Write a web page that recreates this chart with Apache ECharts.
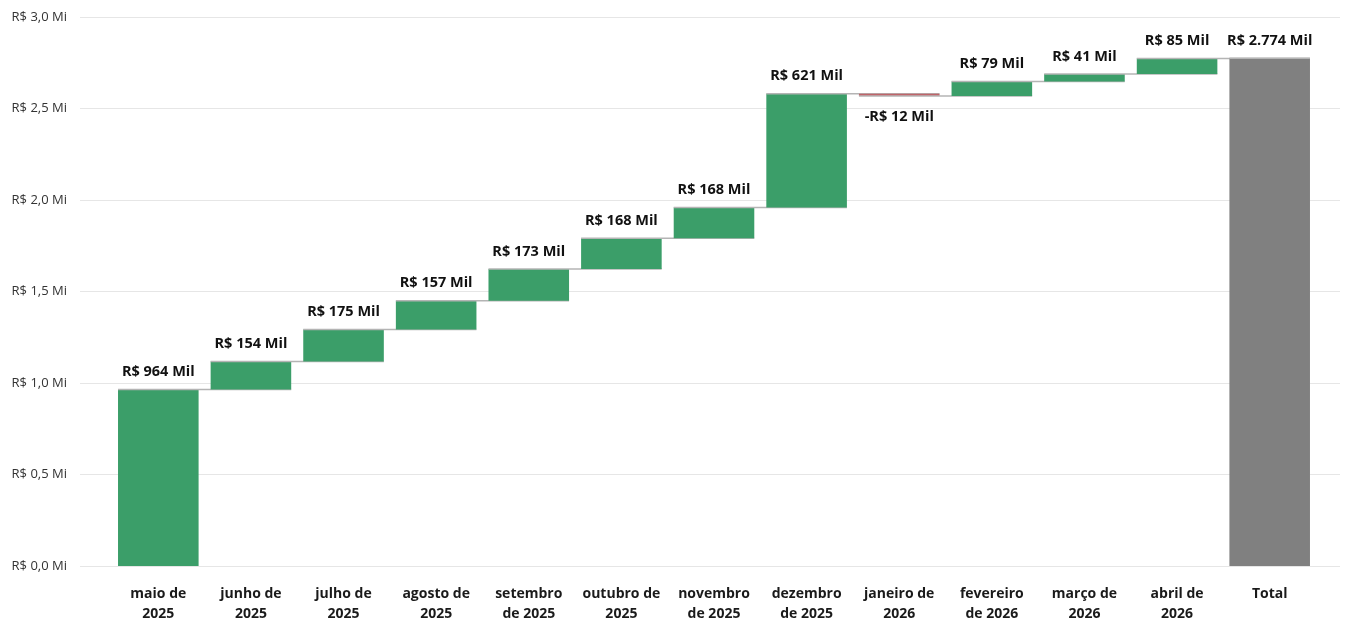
<!DOCTYPE html>
<html>
<head>
<meta charset="utf-8">
<script src="https://cdn.jsdelivr.net/npm/echarts@6/dist/echarts.min.js"></script>
<style>
  html, body { margin: 0; padding: 0; background: #fff; }
  #main { width: 1352px; height: 619px; }
</style>
</head>
<body>
<div id="main"></div>
<script>
// valores em milhares de R$
var categories = ['maio de\n2025', 'junho de\n2025', 'julho de\n2025', 'agosto de\n2025',
  'setembro\nde 2025', 'outubro de\n2025', 'novembro\nde 2025', 'dezembro\nde 2025',
  'janeiro de\n2026', 'fevereiro\nde 2026', 'março de\n2026', 'abril de\n2026', 'Total'];
var deltas = [964, 154, 175, 157, 173, 168, 168, 621, -12, 79, 41, 85];
var totalValue = 2774;
var valueLabels = ['R$ 964 Mil', 'R$ 154 Mil', 'R$ 175 Mil', 'R$ 157 Mil', 'R$ 173 Mil',
  'R$ 168 Mil', 'R$ 168 Mil', 'R$ 621 Mil', '-R$ 12 Mil', 'R$ 79 Mil', 'R$ 41 Mil',
  'R$ 85 Mil', 'R$ 2.774 Mil'];
var yTickLabels = ['R$ 0,0 Mi', 'R$ 0,5 Mi', 'R$ 1,0 Mi', 'R$ 1,5 Mi', 'R$ 2,0 Mi', 'R$ 2,5 Mi', 'R$ 3,0 Mi'];

var upColor = '#3b9e69';
var downColor = '#c0646a';
var totalColor = '#808080';
var lineColor = '#b4b4b4';
var fontFamily = '"Open Sans", "Noto Sans", sans-serif';

// monta inicio/fim de cada barra
var bars = [];
var acc = 0;
deltas.forEach(function (d, i) {
  bars.push([i, acc, acc + d]);
  acc += d;
});
bars.push([deltas.length, 0, totalValue]);

function renderItem(params, api) {
  var i = api.value(0);
  var s = api.value(1);
  var e = api.value(2);
  var band = api.size([1, 0])[0];
  var w = band * 0.87;
  var p0 = api.coord([i, s]);
  var p1 = api.coord([i, e]);
  var x = p0[0] - w / 2;
  var top = Math.min(p0[1], p1[1]);
  var h = Math.max(Math.abs(p0[1] - p1[1]), 1);
  var isTotal = i === categories.length - 1;
  var color = isTotal ? totalColor : (e >= s ? upColor : downColor);
  var children = [{
    type: 'rect',
    shape: { x: x, y: top, width: w, height: h },
    style: { fill: color }
  }];
  var lineEnd = isTotal ? x + w : x + band + w;
  children.push({
    type: 'line',
    shape: { x1: x, y1: p1[1], x2: lineEnd, y2: p1[1] },
    style: { stroke: lineColor, lineWidth: 1.5 }
  });
  var up = e >= s;
  children.push({
    type: 'text',
    style: {
      text: valueLabels[i],
      x: p0[0],
      y: up ? top - 10 : top + h + 13,
      align: 'center',
      verticalAlign: up ? 'bottom' : 'top',
      fill: '#111',
      font: 'bold 14.5px ' + fontFamily
    }
  });
  return { type: 'group', children: children };
}

var chart = echarts.init(document.getElementById('main'));
chart.setOption({
  animation: false,
  grid: [
    { left: 80, right: 12, top: 17, bottom: 53, outerBoundsMode: 'none' },
    { left: 112, right: 36, top: 17, bottom: 53, outerBoundsMode: 'none' }
  ],
  xAxis: [
    { gridIndex: 0, type: 'value', show: false, min: 0, max: 1 },
    {
      gridIndex: 1,
      type: 'category',
      data: categories,
      axisLine: { show: false },
      axisTick: { show: false },
      axisLabel: {
        interval: 0,
        margin: 18,
        color: '#1a1a1a',
        fontWeight: 'bold',
        fontSize: 14,
        lineHeight: 20,
        fontFamily: fontFamily
      }
    }
  ],
  yAxis: [
    {
      gridIndex: 0,
      type: 'value',
      min: 0,
      max: 3000,
      interval: 500,
      axisLine: { show: false },
      axisTick: { show: false },
      splitLine: { lineStyle: { color: '#e6e6e6', width: 1 } },
      axisLabel: {
        margin: 13,
        color: '#333',
        fontSize: 13,
        fontFamily: fontFamily,
        formatter: function (v) { return yTickLabels[Math.round(v / 500)]; }
      }
    },
    { gridIndex: 1, type: 'value', min: 0, max: 3000, show: false }
  ],
  series: [{
    type: 'custom',
    xAxisIndex: 1,
    yAxisIndex: 1,
    renderItem: renderItem,
    encode: { x: 0, y: [1, 2] },
    data: bars
  }]
});
</script>
</body>
</html>
